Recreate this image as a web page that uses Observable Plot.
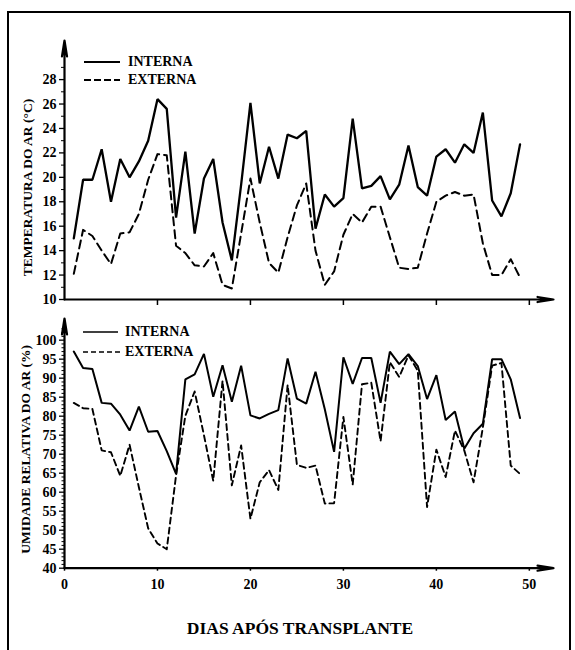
<!DOCTYPE html>
<html>
<head>
<meta charset="utf-8">
<script src="https://cdn.jsdelivr.net/npm/d3@7"></script>
<script src="https://cdn.jsdelivr.net/npm/@observablehq/plot@0.6"></script>
<style>
  body { margin: 0; background: #fff; }
  #fig { position: relative; width: 575px; height: 650px; overflow: hidden;
         font-family: "Liberation Serif", "Times New Roman", serif; font-weight: bold; color: #000; }
  #frame { position: absolute; left: 7px; top: 11px; width: 564px; height: 700px;
           border: 2px solid #000; box-sizing: border-box; }
  .panel { position: absolute; left: 0; }
  .leg { position: absolute; height: 16px; line-height: 16px; font-size: 14px; white-space: nowrap; }
  .leg svg { position: absolute; left: 0; top: 0; }
  .leg span { position: absolute; top: 0; }
  #xtitle { position: absolute; left: 300px; top: 617px; transform: translateX(-50%);
            font-size: 17.5px; line-height: 22px; white-space: nowrap; }
</style>
</head>
<body>
<div id="fig">
  <div id="frame"></div>
  <div id="top" class="panel" style="top:0px"></div>
  <div id="bottom" class="panel" style="top:300px"></div>
  <div id="legTop"></div>
  <div id="legBottom"></div>
  <div id="xtitle"></div>
</div>
<script>
// ---- data ----
const days = [1,2,3,4,5,6,7,8,9,10,11,12,13,14,15,16,17,18,19,20,21,22,23,24,25,26,27,28,29,30,31,32,33,34,35,36,37,38,39,40,41,42,43,44,45,46,47,48,49];

const tempInterna = [15.0,19.8,19.8,22.3,18.0,21.5,20.0,21.3,23.0,26.4,25.6,16.7,22.1,15.4,19.9,21.5,16.3,13.2,19.4,26.1,
  19.5,22.5,19.9,23.5,23.2,23.8,15.8,18.6,17.6,18.3,24.8,19.1,19.3,20.1,18.2,19.4,22.6,19.2,18.5,21.7,
  22.3,21.2,22.7,22.0,25.3,18.1,16.8,18.7,22.7];
const tempExterna = [12.1,15.7,15.2,14.0,12.9,15.4,15.5,17.0,19.8,21.9,21.8,14.4,13.8,12.8,12.7,13.8,11.2,10.9,15.4,19.9,
  16.3,13.0,12.2,15.1,17.7,19.5,14.0,11.2,12.3,15.3,17.0,16.3,17.6,17.6,15.1,12.6,12.5,12.6,15.4,18.0,
  18.5,18.8,18.5,18.6,14.6,12.0,12.0,13.3,11.8];

const humInterna = [97.0,92.7,92.4,83.5,83.3,80.4,76.2,82.5,75.9,76.1,70.8,64.8,89.7,91.0,96.4,85.1,93.4,83.8,93.3,80.2,
  79.4,80.6,81.6,95.2,84.6,83.3,91.7,81.8,70.6,95.5,88.5,95.3,95.3,83.5,97.0,93.7,96.3,93.2,84.5,90.8,
  79.0,81.2,71.4,75.5,78.0,95.0,95.0,89.7,79.5];
const humExterna = [83.5,82.1,81.9,71.0,70.5,64.3,72.5,61.3,50.5,46.5,45.0,64.4,80.1,86.5,75.0,63.0,89.3,61.8,72.3,53.0,
  62.6,65.8,60.6,88.2,67.2,66.4,67.0,57.0,57.1,79.8,62.0,88.4,88.8,73.4,94.2,90.3,96.0,92.0,56.1,71.2,
  64.0,76.2,71.0,62.6,77.0,93.3,94.0,67.0,64.8];

const seriesNames = ["INTERNA", "EXTERNA"];
const xTicks = [0,10,20,30,40,50];
const tempTicks = [10,12,14,16,18,20,22,24,26,28];
const humTicks = [40,45,50,55,60,65,70,75,80,85,90,95,100];
const tempTitle = "TEMPERATURA DO AR (°C)";
const humTitle = "UMIDADE RELATIVA DO AR (%)";
const xTitle = "DIAS APÓS TRANSPLANTE";

// axis extents (arrow tips)
const xDomain = [0, 52.6];
const tempDomain = [10, 31.2];
const humDomain = [40, 105.7];

const tempMinor = d3.range(11, 30, 2);
const humMinor = d3.range(41, 104, 1).filter(v => v % 5 !== 0);

const tempRows = days.map((d, i) => ({day: d, interna: tempInterna[i], externa: tempExterna[i]}));
const humRows = days.map((d, i) => ({day: d, interna: humInterna[i], externa: humExterna[i]}));

const baseStyle = {fontFamily: "Liberation Serif, Times New Roman, serif", fontSize: "13px",
                   fontWeight: "bold", background: "transparent", color: "#000"};

function axisArrows(yDom) {
  return [
    Plot.arrow([0], {x1: () => xDomain[0], y1: () => yDom[0], x2: () => xDomain[0], y2: () => yDom[1],
                     stroke: "#000", strokeWidth: 2.2, headAngle: 18, headLength: 11}),
    Plot.arrow([0], {x1: () => xDomain[0], y1: () => yDom[0], x2: () => xDomain[1], y2: () => yDom[0],
                     stroke: "#000", strokeWidth: 2.2, headAngle: 18, headLength: 11})
  ];
}

const topPlot = Plot.plot({
  width: 575, height: 310,
  marginLeft: 64, marginRight: 22, marginTop: 40, marginBottom: 11,
  x: {domain: xDomain},
  y: {domain: tempDomain},
  style: baseStyle,
  marks: [
    Plot.axisY(tempTicks, {tickSize: 5, tickPadding: 3, strokeWidth: 1.3, label: null, fontWeight: "bold", fontSize: 14}),
    Plot.axisY(tempMinor, {tickSize: 3, tickFormat: () => "", strokeWidth: 1, label: null}),
    Plot.axisX(xTicks.slice(1), {tickSize: 6, tickFormat: () => "", strokeWidth: 1.5, label: null}),
    ...axisArrows(tempDomain),
    Plot.line(tempRows, {x: "day", y: "interna", stroke: "#000", strokeWidth: 2.3, strokeLinejoin: "miter"}),
    Plot.line(tempRows, {x: "day", y: "externa", stroke: "#000", strokeWidth: 2, strokeDasharray: "8,5"}),
    Plot.text([tempTitle], {frameAnchor: "left", textAnchor: "middle", rotate: -90, dx: -37, dy: 17.5,
                            fontSize: 13.5, fontWeight: "bold", fill: "#000"})
  ]
});
document.getElementById("top").append(topPlot);

const bottomPlot = Plot.plot({
  width: 575, height: 300,
  marginLeft: 64, marginRight: 22, marginTop: 18, marginBottom: 32.3,
  x: {domain: xDomain},
  y: {domain: humDomain},
  style: baseStyle,
  marks: [
    Plot.axisY(humTicks, {tickSize: 5, tickPadding: 3, strokeWidth: 1.3, label: null, fontWeight: "bold", fontSize: 14}),
    Plot.axisY(humMinor, {tickSize: 2.5, tickFormat: () => "", strokeWidth: 1, label: null}),
    Plot.axisX(xTicks, {tickSize: 3, tickPadding: 8, strokeWidth: 1.5, label: null, fontWeight: "bold", fontSize: 14}),
    ...axisArrows(humDomain),
    Plot.line(humRows, {x: "day", y: "interna", stroke: "#000", strokeWidth: 2, strokeLinejoin: "miter"}),
    Plot.line(humRows, {x: "day", y: "externa", stroke: "#000", strokeWidth: 1.9, strokeDasharray: "6,4"}),
    Plot.text([humTitle], {frameAnchor: "left", textAnchor: "middle", rotate: -90, dx: -39, dy: 6,
                           fontSize: 13.5, fontWeight: "bold", fill: "#000"})
  ]
});
document.getElementById("bottom").append(bottomPlot);

// legends
function legend(container, items) {
  const el = document.getElementById(container);
  items.forEach(it => {
    const d = document.createElement("div");
    d.className = "leg";
    d.style.left = it.left + "px";
    d.style.top = (it.cy - 8) + "px";
    d.style.width = "120px";
    d.innerHTML = `<svg width="${it.len}" height="16"><line x1="0" x2="${it.len}" y1="8" y2="8" stroke="#000" stroke-width="${it.sw}" ${it.dash ? `stroke-dasharray="${it.dash}"` : ""}/></svg><span style="left:${it.textLeft - it.left}px">${it.name}</span>`;
    el.append(d);
  });
}
legend("legTop", [
  {name: seriesNames[0], left: 84, len: 36, cy: 62, textLeft: 128, sw: 2},
  {name: seriesNames[1], left: 84, len: 36, cy: 80, textLeft: 128, sw: 1.8, dash: "7,3"}
]);
legend("legBottom", [
  {name: seriesNames[0], left: 83, len: 35, cy: 332, textLeft: 125, sw: 1.5},
  {name: seriesNames[1], left: 83, len: 37, cy: 352, textLeft: 125, sw: 1.5, dash: "5,3"}
]);
document.getElementById("xtitle").textContent = xTitle;
</script>
</body>
</html>
